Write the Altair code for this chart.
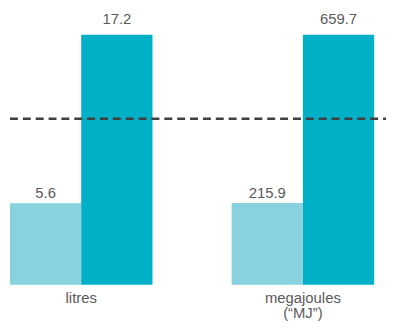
import altair as alt
import pandas as pd

units = ["litres", "megajoules|(“MJ”)"]
series = ["Series A", "Series B"]
values_a = [5.6, 215.9]
values_b = [17.2, 659.7]
ref_share = [0.664]

rows = []
for u, a, b in zip(units, values_a, values_b):
    m = max(a, b)
    rows.append({"unit": u, "series": series[0], "value": a, "share": a / m})
    rows.append({"unit": u, "series": series[1], "value": b, "share": b / m})
df = pd.DataFrame(rows)

FONT = "Liberation Sans"
TXT = "#5a5a5a"

x = alt.X(
    "unit:N",
    sort=units,
    scale=alt.Scale(paddingInner=80 / 224, paddingOuter=0),
    axis=alt.Axis(
        title=None,
        labelExpr="split(datum.label, '|')",
        labelAngle=0,
        domain=False,
        ticks=False,
        labelFontSize=15,
        labelFont=FONT,
        labelColor=TXT,
        labelPadding=6,
        labelLineHeight=15,
    ),
)
xo = alt.XOffset("series:N", sort=series, scale=alt.Scale(paddingInner=0, paddingOuter=0))
y = alt.Y("share:Q", scale=alt.Scale(domain=[0, 1.1]), axis=None)

base = alt.Chart(df)

bars = base.mark_bar().encode(
    x=x,
    xOffset=xo,
    y=y,
    color=alt.Color(
        "series:N",
        sort=series,
        scale=alt.Scale(domain=series, range=["#88d1de", "#00b0c7"]),
        legend=None,
    ),
)

txt_a = base.transform_filter(alt.datum.series == series[0]).mark_text(
    baseline="alphabetic", dy=-5, fontSize=15, font=FONT, color=TXT
).encode(x=x, xOffset=xo, y=y, text=alt.Text("value:Q", format=".1f"))

txt_b = base.transform_filter(alt.datum.series == series[1]).mark_text(
    baseline="alphabetic", dy=-11, fontSize=15, font=FONT, color=TXT
).encode(x=x, xOffset=xo, y=y, text=alt.Text("value:Q", format=".1f"))

rule = alt.Chart(pd.DataFrame({"ref": ref_share})).mark_rule(
    strokeDash=[8, 5], strokeWidth=2.5, color="#404040"
).encode(y=alt.Y("ref:Q"), x=alt.value(0), x2=alt.value(380))

chart = (
    alt.layer(bars, txt_a, txt_b, rule)
    .properties(width=368, height=278, padding=0)
    .configure_view(stroke=None)
)

chart.save("out.html", embed_options={"renderer": "svg", "actions": False})
